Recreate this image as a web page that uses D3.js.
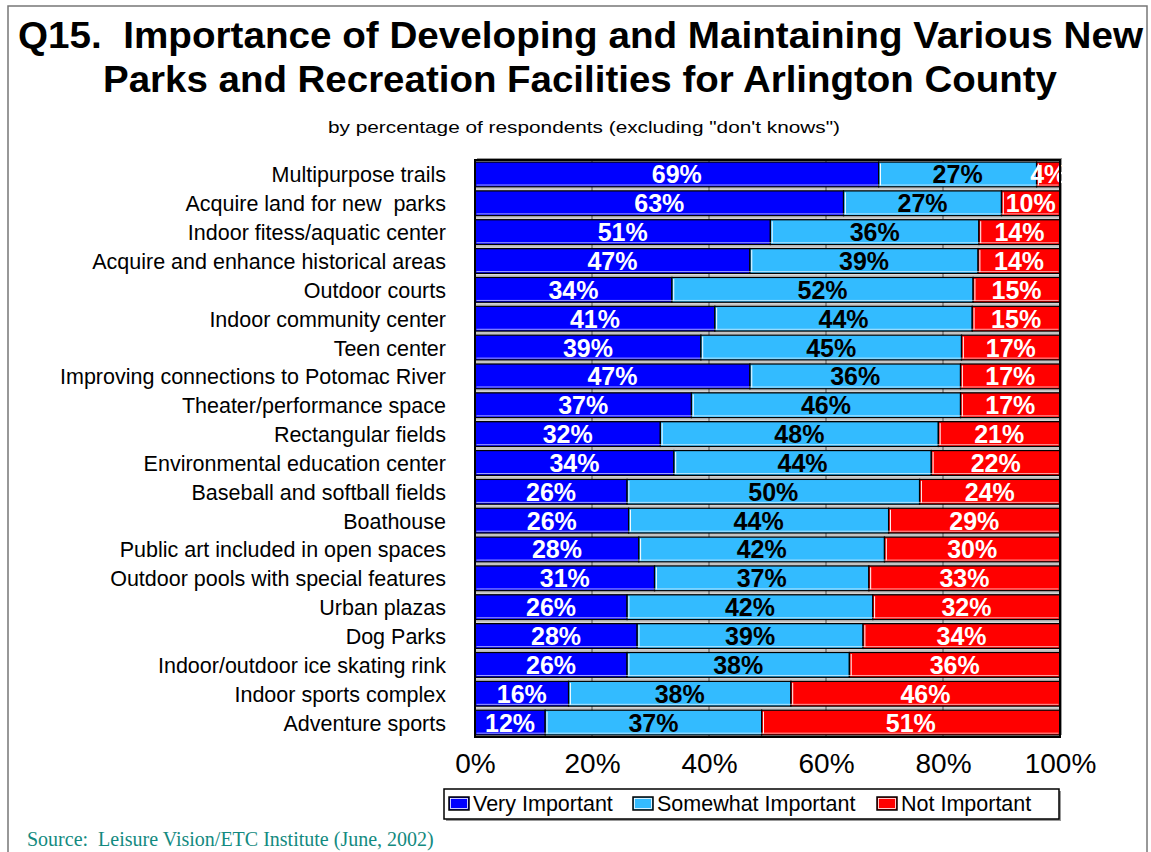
<!DOCTYPE html>
<html>
<head>
<meta charset="utf-8">
<script src="https://cdn.jsdelivr.net/npm/d3@7"></script>
<style>
  html, body { margin: 0; padding: 0; background: #fff; }
  svg { display: block; font-family: Arial, "Liberation Sans", sans-serif; }
  text.pre { white-space: pre; }
</style>
</head>
<body>
<svg id="chart" width="1151" height="852"></svg>
<script>
const categories = [
  "Multipurpose trails",
  "Acquire land for new  parks",
  "Indoor fitess/aquatic center",
  "Acquire and enhance historical areas",
  "Outdoor courts",
  "Indoor community center",
  "Teen center",
  "Improving connections to Potomac River",
  "Theater/performance space",
  "Rectangular fields",
  "Environmental education center",
  "Baseball and softball fields",
  "Boathouse",
  "Public art included in open spaces",
  "Outdoor pools with special features",
  "Urban plazas",
  "Dog Parks",
  "Indoor/outdoor ice skating rink",
  "Indoor sports complex",
  "Adventure sports"
];
const veryImportant     = [69, 63, 51, 47, 34, 41, 39, 47, 37, 32, 34, 26, 26, 28, 31, 26, 28, 26, 16, 12];
const somewhatImportant = [27, 27, 36, 39, 52, 44, 45, 36, 46, 48, 44, 50, 44, 42, 37, 42, 39, 38, 38, 37];
const notImportant      = [ 4, 10, 14, 14, 15, 15, 17, 17, 17, 21, 22, 24, 29, 30, 33, 32, 34, 36, 46, 51];
const seriesNames = ["Very Important", "Somewhat Important", "Not Important"];
const tickValues = [0, 0.2, 0.4, 0.6, 0.8, 1.0];
const titleLines = [
  "Q15.  Importance of Developing and Maintaining Various New",
  "Parks and Recreation Facilities for Arlington County"
];
const subtitle = "by percentage of respondents (excluding \"don't knows\")";
const sourceText = "Source:  Leisure Vision/ETC Institute (June, 2002)";

const colors = ["#0000ff", "#33bbff", "#ff0000"];
const labelColors = ["#ffffff", "#000000", "#ffffff"];

const svg = d3.select("#chart");

// outer frame
svg.append("rect").attr("x", 8).attr("y", 6).attr("width", 1139).attr("height", 860)
  .attr("fill", "none").attr("stroke", "#777").attr("stroke-width", 1.5);

// Titles
const titleY = [48, 92];
const titleFit = [[18, 1143], [103, 1057]];
titleLines.forEach((t, i) => {
  svg.append("text").attr("class", "pre")
    .attr("x", titleFit[i][0]).attr("y", titleY[i])
    .attr("font-size", 37).attr("font-weight", "bold").attr("fill", "#000")
    .attr("textLength", titleFit[i][1] - titleFit[i][0])
    .attr("lengthAdjust", "spacingAndGlyphs")
    .text(t);
});
svg.append("text")
  .attr("x", 328).attr("y", 133)
  .attr("font-size", 17).attr("fill", "#000")
  .attr("textLength", 512).attr("lengthAdjust", "spacingAndGlyphs")
  .text(subtitle);

// Data prep (normalized stacked)
const rows = categories.map((c, i) => {
  const vals = [veryImportant[i], somewhatImportant[i], notImportant[i]];
  const tot = d3.sum(vals);
  let acc = 0;
  const segs = vals.map((v, k) => {
    const s = { k, v, x0: acc / tot, x1: (acc + v) / tot };
    acc += v;
    return s;
  });
  return { c, segs };
});

const pLeft = 475, pRight = 1060, pTop = 160, pBottom = 737;
const x = d3.scaleLinear().domain([0, 1]).range([pLeft, pRight]);
const y = d3.scaleBand().domain(categories).range([pTop, pBottom]).paddingInner(0.14).paddingOuter(0.07);

// plot area shadow + background
svg.append("rect").attr("x", pLeft + 2).attr("y", pTop - 2).attr("width", pRight - pLeft).attr("height", pBottom - pTop)
  .attr("fill", "#999");
svg.append("rect").attr("x", pLeft).attr("y", pTop).attr("width", pRight - pLeft).attr("height", pBottom - pTop)
  .attr("fill", "#fff");

// horizontal grey lines in gaps
const step = y.step();
categories.forEach((c, i) => {
  if (i === 0) return;
  const gy = y(c) - (step - y.bandwidth()) / 2;
  svg.append("line").attr("x1", pLeft).attr("x2", pRight).attr("y1", gy).attr("y2", gy)
    .attr("stroke", "#c4c4c4").attr("stroke-width", 2);
});

// vertical gridlines
svg.append("g").selectAll("line").data(tickValues.slice(1, -1)).join("line")
  .attr("x1", d => x(d)).attr("x2", d => x(d)).attr("y1", pTop).attr("y2", pBottom)
  .attr("stroke", "#555").attr("stroke-width", 1);

// Bars
const rowG = svg.append("g").selectAll("g").data(rows).join("g")
  .attr("transform", d => `translate(0,${y(d.c)})`);
const bw = y.bandwidth();
rowG.selectAll("rect.seg").data(d => d.segs).join("rect")
  .attr("class", "seg")
  .attr("x", d => x(d.x0)).attr("y", 0)
  .attr("width", d => x(d.x1) - x(d.x0)).attr("height", bw)
  .attr("fill", d => colors[d.k])
  .attr("stroke", "#000").attr("stroke-width", 1.3);
// white highlight lines at segment boundaries (bevel look)
rowG.selectAll("line.hl").data(d => d.segs.slice(1)).join("line")
  .attr("class", "hl")
  .attr("x1", d => x(d.x0) + 1.8).attr("x2", d => x(d.x0) + 1.8)
  .attr("y1", 1.5).attr("y2", bw - 1.5)
  .attr("stroke", "#fff").attr("stroke-width", 1);
rowG.append("line")
  .attr("x1", pLeft + 1.5).attr("x2", pRight - 1.5).attr("y1", bw - 1.8).attr("y2", bw - 1.8)
  .attr("stroke", "#fff").attr("stroke-width", 0.8).attr("opacity", 0.8);

// Value labels
rowG.selectAll("text.val").data(d => d.segs).join("text")
  .attr("class", "val")
  .attr("x", d => (x(d.x0) + x(d.x1)) / 2)
  .attr("y", bw / 2 + 9)
  .attr("text-anchor", "middle")
  .attr("font-size", 25).attr("font-weight", "bold")
  .attr("fill", d => labelColors[d.k])
  .text(d => d.v + "%");

// plot border
svg.append("rect").attr("x", pLeft).attr("y", pTop).attr("width", pRight - pLeft).attr("height", pBottom - pTop)
  .attr("fill", "none").attr("stroke", "#000").attr("stroke-width", 2);

// Category labels
svg.append("g").selectAll("text").data(categories).join("text")
  .attr("class", "pre")
  .attr("x", 446).attr("y", d => y(d) + bw / 2 + 8)
  .attr("text-anchor", "end")
  .attr("font-size", 21.5).attr("fill", "#000")
  .text(d => d);

// X axis tick labels
const xAxis = d3.axisBottom(x).tickValues(tickValues).tickFormat(d3.format(".0%")).tickSize(0).tickPadding(0);
const axG = svg.append("g").attr("transform", `translate(0,${pBottom})`).call(xAxis);
axG.select(".domain").remove();
axG.selectAll("text").attr("font-size", 28).attr("font-family", "Arial, 'Liberation Sans', sans-serif")
  .attr("fill", "#000").attr("dy", null).attr("y", 36);

// Legend
svg.append("rect").attr("x", 446).attr("y", 791).attr("width", 615).attr("height", 30).attr("fill", "#999");
svg.append("rect").attr("x", 444).attr("y", 789).attr("width", 615).attr("height", 30)
  .attr("fill", "#fff").attr("stroke", "#000").attr("stroke-width", 1.5);
const legendX = [449, 633, 877];
const lg = svg.append("g").selectAll("g").data(seriesNames).join("g")
  .attr("transform", (d, i) => `translate(${legendX[i]},797)`);
lg.append("rect").attr("width", 20).attr("height", 13)
  .attr("fill", (d, i) => colors[i]).attr("stroke", "#000").attr("stroke-width", 1.5);
lg.append("rect").attr("x", 1.5).attr("y", 1.5).attr("width", 17).attr("height", 10)
  .attr("fill", "none").attr("stroke", "#fff").attr("stroke-width", 0.8);
lg.append("text").attr("x", 24).attr("y", 14).attr("font-size", 21.5).attr("fill", "#000").text(d => d);

// Source
svg.append("text").attr("class", "pre").attr("x", 27).attr("y", 846)
  .attr("font-family", "'Liberation Serif', 'Times New Roman', serif")
  .attr("font-size", 20).attr("fill", "#138a80")
  .text(sourceText);
</script>
</body>
</html>
